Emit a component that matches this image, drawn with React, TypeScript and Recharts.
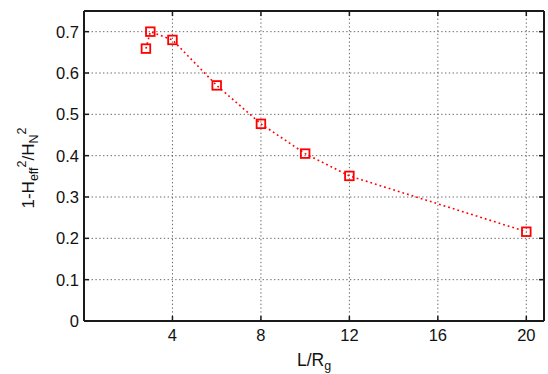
import React from 'react';
import { LineChart, Line, XAxis, YAxis, CartesianGrid } from 'recharts';

const xValues = [2.8, 3, 4, 6, 8, 10, 12, 20];
const yValues = [0.659, 0.7, 0.68, 0.57, 0.477, 0.405, 0.351, 0.216];
const xTicks = [4, 8, 12, 16, 20];
const yTicks = [0, 0.1, 0.2, 0.3, 0.4, 0.5, 0.6, 0.7];
const xDomain = [0, 20.8];
const yDomain = [0, 0.75];

const data = xValues.map((x, i) => ({ x, y: yValues[i] }));

const FONT = 'Liberation Sans, Arial, Helvetica, sans-serif';
const AXIS_COLOR = '#1a1a1a';
const RED = '#ff0000';

const SquareDot = (props: any) => {
  const { cx, cy } = props;
  if (cx == null || cy == null) return null;
  const s = 8.6;
  return (
    <rect x={cx - s / 2} y={cy - s / 2} width={s} height={s} fill="none" stroke={RED} strokeWidth={1.8} />
  );
};

const XLabel = (props: any) => {
  const vb = props.viewBox || {};
  const cx = vb.x + vb.width / 2;
  const y = vb.y + 45;
  return (
    <text x={cx} y={y} textAnchor="middle" fontFamily={FONT} fontSize={17.5} fill="#111">
      <tspan>L/R</tspan>
      <tspan dy={4} fontSize={12.5}>g</tspan>
    </text>
  );
};

const YLabel = (props: any) => {
  const vb = props.viewBox || {};
  const cx = 34;
  const cy = vb.y + vb.height / 2 + 2;
  return (
    <text
      x={cx}
      y={cy}
      transform={`rotate(-90, ${cx}, ${cy})`}
      textAnchor="middle"
      fontFamily={FONT}
      fontSize={17}
      fill="#111"
    >
      <tspan>1-H</tspan>
      <tspan dy={4} fontSize={12.5}>eff</tspan>
      <tspan dy={-12} fontSize={12.5}>2</tspan>
      <tspan dy={8}>/H</tspan>
      <tspan dy={4} fontSize={12.5}>N</tspan>
      <tspan dy={-12} fontSize={12.5}>2</tspan>
    </text>
  );
};

const blank = () => '';

export default function App() {
  return (
    <div style={{ position: 'absolute', left: 0, top: 0, background: '#fff' }}>
      <LineChart width={548} height={374} data={data} margin={{ top: 11, right: 4, bottom: 0, left: 0 }}>
        <CartesianGrid stroke="#6a6a6a" strokeDasharray="1.4 2.4" strokeWidth={1} />
        <XAxis
          dataKey="x"
          type="number"
          domain={xDomain}
          ticks={xTicks}
          allowDataOverflow
          height={53}
          tickLine={false}
          tickSize={0}
          tickMargin={8}
          axisLine={{ stroke: AXIS_COLOR, strokeWidth: 2 }}
          tick={{ fontFamily: FONT, fontSize: 16.5, fill: '#111' }}
          label={<XLabel />}
        />
        <XAxis
          xAxisId="bm"
          dataKey="x"
          type="number"
          orientation="bottom"
          mirror
          domain={xDomain}
          ticks={xTicks}
          allowDataOverflow
          tickSize={5}
          tickLine={{ stroke: AXIS_COLOR, strokeWidth: 1.5 }}
          axisLine={false}
          tickFormatter={blank}
        />
        <XAxis
          xAxisId="top"
          dataKey="x"
          type="number"
          orientation="top"
          mirror
          domain={xDomain}
          ticks={xTicks}
          allowDataOverflow
          tickSize={5}
          tickLine={{ stroke: AXIS_COLOR, strokeWidth: 1.5 }}
          axisLine={{ stroke: AXIS_COLOR, strokeWidth: 2 }}
          tickFormatter={blank}
        />
        <YAxis
          dataKey="y"
          type="number"
          domain={yDomain}
          ticks={yTicks}
          allowDataOverflow
          width={84}
          tickLine={false}
          tickSize={0}
          tickMargin={5}
          axisLine={{ stroke: AXIS_COLOR, strokeWidth: 2 }}
          tick={{ fontFamily: FONT, fontSize: 16.5, fill: '#111' }}
          label={<YLabel />}
        />
        <YAxis
          yAxisId="lm"
          dataKey="y"
          type="number"
          orientation="left"
          mirror
          domain={yDomain}
          ticks={yTicks}
          allowDataOverflow
          tickSize={5}
          tickLine={{ stroke: AXIS_COLOR, strokeWidth: 1.5 }}
          axisLine={false}
          tickFormatter={blank}
        />
        <YAxis
          yAxisId="right"
          dataKey="y"
          type="number"
          orientation="right"
          mirror
          domain={yDomain}
          ticks={yTicks}
          allowDataOverflow
          tickSize={5}
          tickLine={{ stroke: AXIS_COLOR, strokeWidth: 1.5 }}
          axisLine={{ stroke: AXIS_COLOR, strokeWidth: 2 }}
          tickFormatter={blank}
        />
        <Line
          type="linear"
          dataKey="y"
          stroke={RED}
          strokeWidth={1.6}
          strokeDasharray="1.8 3"
          dot={<SquareDot />}
          activeDot={false}
          isAnimationActive={false}
        />
      </LineChart>
    </div>
  );
}
